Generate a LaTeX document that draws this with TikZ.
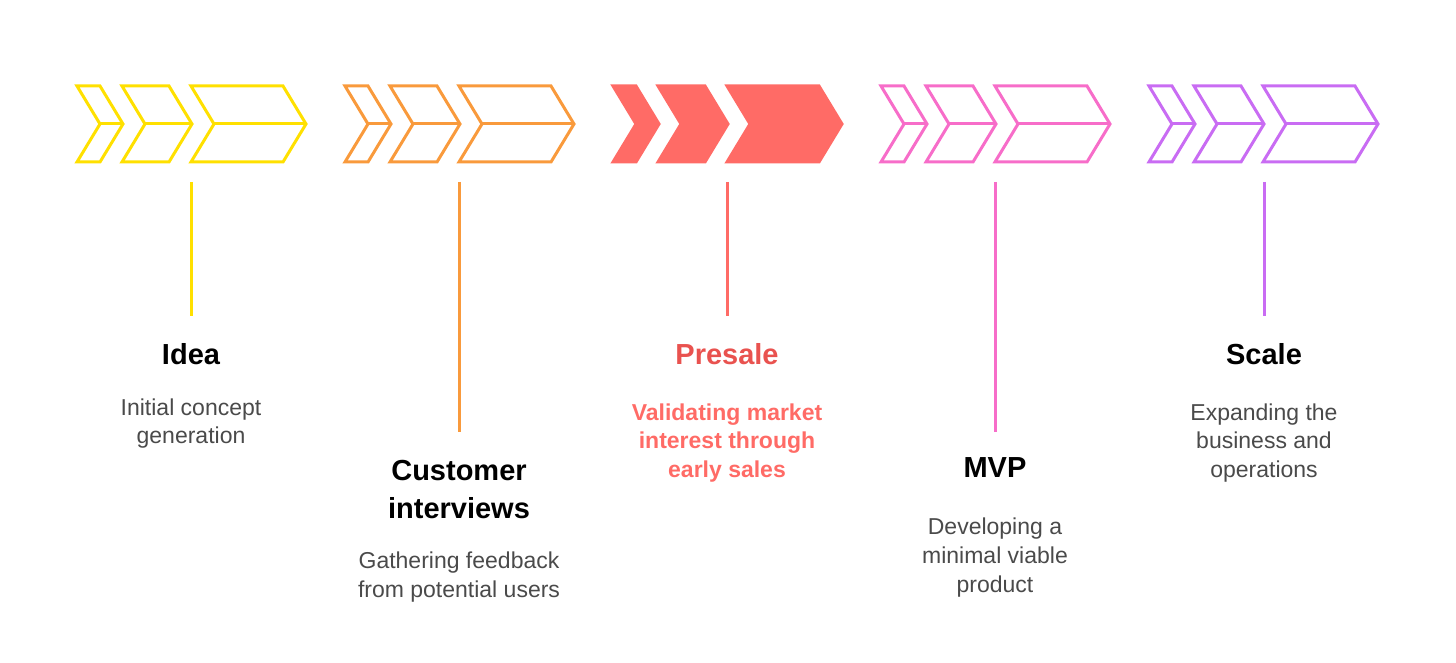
\documentclass[tikz,border=0pt]{standalone}
\usepackage{fontspec}
\setmainfont{Liberation Sans}
\usepackage{xcolor}
\usepackage{tikz}
\usetikzlibrary{positioning}
\definecolor{ideayellow}{HTML}{FFE000}
\definecolor{custorange}{HTML}{F99A3C}
\definecolor{presalered}{HTML}{FF6B66}
\definecolor{presaledark}{HTML}{E9524F}
\definecolor{mvppink}{HTML}{F76DC9}
\definecolor{scalepurple}{HTML}{C96CF3}
\definecolor{descgray}{HTML}{4A4A4A}

\tikzset{
  chevron/.style={line width=1.5pt},
  stem/.style={line width=1.5pt},
  stagetitle/.style={font=\bfseries\fontsize{14.5}{19}\selectfont, align=center, inner sep=0pt},
  stagedesc/.style={font=\fontsize{11.5}{14.3}\selectfont, text=descgray, align=center, inner sep=0pt}
}

\begin{document}
\begin{tikzpicture}[x=0.5pt, y=-0.5pt]
    \useasboundingbox (0,0) rectangle (1456,663);

    % outlined chevron groups
    \foreach \c/\gx in {ideayellow/77, custorange/345, mvppink/881, scalepurple/1149} {
      \foreach \l/\w in {0/23, 45/47, 114/92} {
        \draw[chevron, draw=\c] (\gx+\l,86) -- ++(\w,0) -- ++(23,38) -- ++(-23,38)
          -- ++(-\w,0) -- ++(23,-38) -- cycle;
        \draw[chevron, draw=\c] (\gx+\l+23,124) -- ++(\w,0);
      }
    }
    % filled chevron group
    \foreach \l/\w in {0/23, 45/47, 114/92} {
      \filldraw[chevron, presalered] (613+\l,86) -- ++(\w,0) -- ++(23,38) -- ++(-23,38)
        -- ++(-\w,0) -- ++(23,-38) -- cycle;
    }

    % stems
    \coordinate (ideatop) at (191,182);   \coordinate (ideabot) at (191,316);
    \coordinate (custtop) at (459,182);   \coordinate (custbot) at (459,432);
    \coordinate (presaletop) at (727,182); \coordinate (presalebot) at (727,316);
    \coordinate (mvptop) at (995,182);    \coordinate (mvpbot) at (995,432);
    \coordinate (scaletop) at (1264,182); \coordinate (scalebot) at (1264,316);

    \draw[stem, ideayellow] (ideatop) -- (ideabot);
    \draw[stem, custorange] (custtop) -- (custbot);
    \draw[stem, presalered] (presaletop) -- (presalebot);
    \draw[stem, mvppink] (mvptop) -- (mvpbot);
    \draw[stem, scalepurple] (scaletop) -- (scalebot);

    % labels
    \node[stagetitle, below=13.5pt of ideabot] (ideatitle) {Idea};
    \node[stagedesc, below=16.5pt of ideatitle] (ideadesc) {Initial concept\\generation};

    \node[stagetitle, below=14pt of custbot] (custtitle) {Customer\\interviews};
    \node[stagedesc, below=16pt of custtitle] (custdesc) {Gathering feedback\\from potential users};

    \node[stagetitle, text=presaledark, below=13.5pt of presalebot] (presaletitle) {Presale};
    \node[stagedesc, font=\bfseries\fontsize{11.5}{14.3}\selectfont, text=presalered,
          below=19pt of presaletitle] (presaledesc) {Validating market\\interest through\\early sales};

    \node[stagetitle, below=12.5pt of mvpbot] (mvptitle) {MVP};
    \node[stagedesc, below=20pt of mvptitle] (mvpdesc) {Developing a\\minimal viable\\product};

    \node[stagetitle, below=13.5pt of scalebot] (scaletitle) {Scale};
    \node[stagedesc, below=19pt of scaletitle] (scaledesc) {Expanding the\\business and\\operations};
  \end{tikzpicture}
\end{document}
